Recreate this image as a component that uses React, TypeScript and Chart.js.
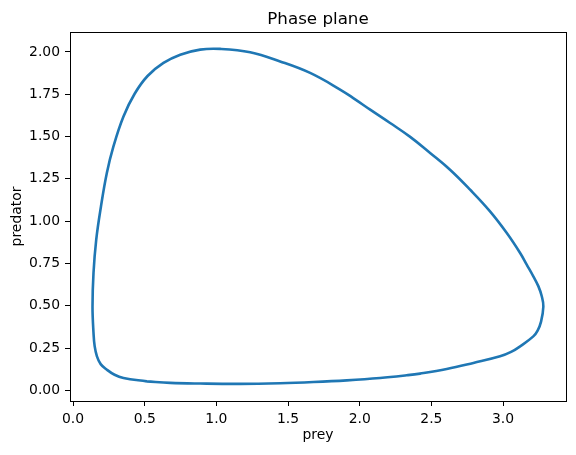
import React, { useEffect, useRef } from "react";
import { Chart, registerables } from "chart.js";

Chart.register(...registerables);

// Phase-plane trajectory (prey on x, predator on y)
const prey = [
  0.515, 0.678, 0.887, 1.166, 1.445, 1.677, 1.910, 2.142, 2.328, 2.421, 2.607,
  2.793, 2.979, 3.056, 3.119, 3.211, 3.241, 3.265, 3.281, 3.270, 3.246, 3.211,
  3.165, 3.119, 3.026, 2.909, 2.770, 2.630, 2.491, 2.352, 2.212, 2.073, 1.968,
  1.863, 1.654, 1.445, 1.236, 1.027, 0.887, 0.748, 0.631, 0.520, 0.430, 0.352,
  0.282, 0.236, 0.195, 0.162, 0.143, 0.136, 0.143, 0.151, 0.167, 0.193, 0.236,
  0.290, 0.352, 0.515,
];
const predator = [
  0.053, 0.044, 0.040, 0.038, 0.042, 0.049, 0.059, 0.073, 0.089, 0.099, 0.126,
  0.162, 0.201, 0.227, 0.260, 0.319, 0.353, 0.406, 0.496, 0.556, 0.616, 0.674,
  0.743, 0.812, 0.930, 1.058, 1.186, 1.304, 1.403, 1.498, 1.580, 1.659, 1.720,
  1.778, 1.876, 1.944, 1.998, 2.018, 2.014, 1.984, 1.935, 1.858, 1.753, 1.619,
  1.442, 1.285, 1.087, 0.891, 0.694, 0.496, 0.339, 0.261, 0.201, 0.155, 0.122,
  0.092, 0.073, 0.053,
];

const xTicks = [0, 0.5, 1, 1.5, 2, 2.5, 3];
const yTicks = [0, 0.25, 0.5, 0.75, 1, 1.25, 1.5, 1.75, 2];

const titleText = "Phase plane";
const xLabel = "prey";
const yLabel = "predator";

const FONT = "'DejaVu Sans', sans-serif";

const framePlugin = {
  id: "frameAndTitle",
  afterDraw(chart: any) {
    const { ctx, chartArea } = chart;
    const { left, right, top, bottom } = chartArea;
    ctx.save();
    ctx.strokeStyle = "#000";
    ctx.lineWidth = 1;
    ctx.strokeRect(left + 0.5, top + 0.5, right - left, bottom - top);
    ctx.fillStyle = "#000";
    ctx.font = `16.7px ${FONT}`;
    ctx.textAlign = "center";
    ctx.textBaseline = "alphabetic";
    ctx.fillText(titleText, (left + right) / 2, top - 8);
    ctx.restore();
  },
};

export default function App() {
  const canvasRef = useRef<HTMLCanvasElement | null>(null);

  useEffect(() => {
    if (!canvasRef.current) return;
    const data = prey.map((x, i) => ({ x, y: predator[i] }));
    const chart = new Chart(canvasRef.current, {
      type: "scatter",
      data: {
        datasets: [
          {
            data,
            showLine: true,
            borderColor: "#1f77b4",
            backgroundColor: "#1f77b4",
            borderWidth: 2.6,
            pointRadius: 0,
            tension: 0.4,
          },
        ],
      },
      options: {
        animation: false,
        responsive: true,
        maintainAspectRatio: false,
        layout: { padding: { top: 32, right: 10, left: 0, bottom: 0 } },
        plugins: {
          legend: { display: false },
          tooltip: { enabled: false },
          title: { display: false },
        },
        scales: {
          x: {
            type: "linear",
            min: -0.021,
            max: 3.439,
            afterBuildTicks: (scale: any) => {
              scale.ticks = xTicks.map((value) => ({ value }));
            },
            afterFit: (scale: any) => {
              scale.height = 54;
            },
            border: { display: false },
            grid: {
              drawOnChartArea: false,
              drawTicks: true,
              tickLength: 5,
              color: "#000",
              lineWidth: 1,
            },
            ticks: {
              color: "#000",
              font: { family: FONT, size: 13.9 },
              padding: 5,
              maxRotation: 0,
              autoSkip: false,
              callback: (v: any) => Number(v).toFixed(1),
            },
            title: {
              display: true,
              text: xLabel,
              color: "#000",
              font: { family: FONT, size: 13.9 },
              padding: { top: 0, bottom: 11 },
            },
          },
          y: {
            type: "linear",
            min: -0.063,
            max: 2.118,
            afterBuildTicks: (scale: any) => {
              scale.ticks = yTicks.map((value) => ({ value }));
            },
            afterFit: (scale: any) => {
              scale.width = 70;
            },
            border: { display: false },
            grid: {
              drawOnChartArea: false,
              drawTicks: true,
              tickLength: 5,
              color: "#000",
              lineWidth: 1,
            },
            ticks: {
              color: "#000",
              font: { family: FONT, size: 13.9 },
              padding: 5,
              autoSkip: false,
              callback: (v: any) => Number(v).toFixed(2),
            },
            title: {
              display: true,
              text: yLabel,
              color: "#000",
              font: { family: FONT, size: 13.9 },
              padding: { top: 9, bottom: 0 },
            },
          },
        },
      },
      plugins: [framePlugin],
    });
    return () => chart.destroy();
  }, []);

  return (
    <div
      style={{
        position: "fixed",
        left: 0,
        top: 0,
        width: 576,
        height: 455,
        background: "#fff",
      }}
    >
      <canvas ref={canvasRef} />
    </div>
  );
}
